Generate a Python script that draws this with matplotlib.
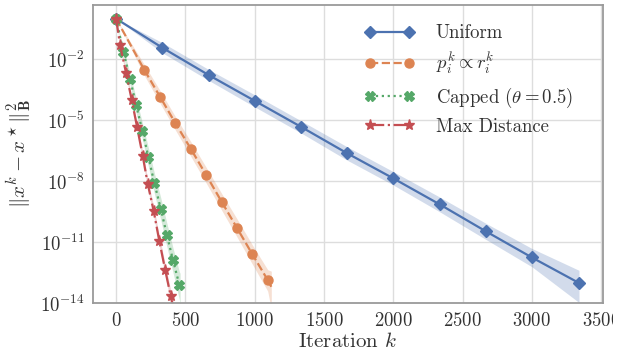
import matplotlib
matplotlib.use("Agg")
import matplotlib.pyplot as plt
from matplotlib.transforms import Bbox
import numpy as np

plt.rcParams['font.family'] = 'serif'
plt.rcParams['font.serif'] = ['cmr10']
plt.rcParams['mathtext.fontset'] = 'cm'
plt.rcParams['axes.formatter.use_mathtext'] = True

# ---- data ----
uniform_iter = [0, 334, 667, 1000, 1334, 1667, 2000, 2334, 2667, 3000, 3340]
uniform_mean = [1.0, 3.7e-2, 1.7e-3, 9.1e-5, 4.8e-6, 2.4e-7, 1.4e-8, 7.4e-10, 3.5e-11, 1.8e-12, 1.0e-13]
uniform_hi = [1.0, 6.6e-2, 3.2e-3, 1.8e-4, 9.5e-6, 5.0e-7, 3.0e-8, 1.7e-9, 8.7e-11, 5.0e-12, 4.2e-13]
uniform_lo = [1.0, 2.1e-2, 9.3e-4, 4.6e-5, 2.4e-6, 1.1e-7, 6.6e-9, 3.2e-10, 1.4e-11, 6.3e-13, 1.1e-14]

prop_iter = [0, 204, 317, 426, 539, 649, 762, 873, 983, 1094, 1120]
prop_mean = [1.0, 3.0e-3, 1.45e-4, 7.6e-6, 4.0e-7, 2.1e-8, 9.8e-10, 5.0e-11, 2.6e-12, 1.4e-13, 6.5e-14]
prop_hi = [1.0, 5.5e-3, 2.9e-4, 1.6e-5, 9.0e-7, 5.0e-8, 2.5e-9, 1.4e-10, 7.5e-12, 4.5e-13, 3.8e-13]
prop_lo = [1.0, 1.6e-3, 7.0e-5, 3.5e-6, 1.7e-7, 8.5e-9, 3.8e-10, 1.8e-11, 8.5e-13, 4.0e-14, 5.0e-15]

capped_iter = [0, 53, 101, 144, 190, 233, 276, 322, 366, 411, 457, 462]
capped_mean = [1.0, 2.3e-2, 1.07e-3, 5.8e-5, 3.0e-6, 1.6e-7, 8.3e-9, 4.6e-10, 2.4e-11, 1.3e-12, 7.9e-14, 6.0e-14]
capped_hi = [1.0, 3.5e-2, 2.0e-3, 1.3e-4, 7.5e-6, 4.5e-7, 2.6e-8, 1.6e-9, 9.0e-11, 5.2e-12, 3.5e-13, 3.0e-13]
capped_lo = [1.0, 1.5e-2, 5.5e-4, 2.5e-5, 1.2e-6, 5.5e-8, 2.6e-9, 1.3e-10, 6.3e-12, 3.2e-13, 1.5e-14, 5.0e-15]

maxd_iter = [0, 29, 72, 113, 152, 192, 228, 271, 312, 354, 394, 415]
maxd_mean = [1.0, 5.0e-2, 2.1e-3, 1.0e-4, 4.5e-6, 1.8e-7, 7.8e-9, 3.5e-10, 1.15e-11, 4.5e-13, 2.3e-14, 5.0e-15]
maxd_hi = [1.0, 6.5e-2, 3.0e-3, 1.5e-4, 7.0e-6, 3.0e-7, 1.3e-8, 6.0e-10, 2.1e-11, 8.5e-13, 4.5e-14, 1.0e-14]
maxd_lo = [1.0, 3.8e-2, 1.45e-3, 6.5e-5, 2.9e-6, 1.1e-7, 4.6e-9, 2.0e-10, 6.3e-12, 2.4e-13, 1.2e-14, 2.5e-15]

labels = ['Uniform', r'$p_i^k \propto r_i^k$', r'Capped ($\theta = 0.5$)', 'Max Distance']
colors = ['#4C72B0', '#DD8452', '#55A868', '#C44E52']
markers = ['D', 'o', 'X', '*']
styles = ['-', '--', ':', '-.']
xticks = [0, 500, 1000, 1500, 2000, 2500, 3000, 3500]
yticks = [1e-14, 1e-11, 1e-8, 1e-5, 1e-2]

series = [
    (uniform_iter, uniform_mean, uniform_lo, uniform_hi),
    (prop_iter, prop_mean, prop_lo, prop_hi),
    (capped_iter, capped_mean, capped_lo, capped_hi),
    (maxd_iter, maxd_mean, maxd_lo, maxd_hi),
]

fig = plt.figure(figsize=(6.27, 3.56), dpi=100)
ax = fig.add_axes([0.148, 0.148, 0.813, 0.839])
ax.set_facecolor('white')

msizes = [6.2, 6.5, 6.5, 8]
for (it, m, lo, hi), lab, c, mk, ls, ms in zip(series, labels, colors, markers, styles, msizes):
    ax.fill_between(it, lo, hi, color=c, alpha=0.25, linewidth=0)
    n = len(it)
    ax.plot(it, m, color=c, linestyle=ls, marker=mk, markersize=ms, lw=1.6,
            label=lab, markevery=list(range(0, n - 1)) if it[-1] - it[-2] < 60 else None)

ax.set_yscale('log')
ax.set_xlim(-168, 3510)
ax.set_ylim(1e-14, 4.9)
ax.set_yticks(yticks)
ax.yaxis.set_minor_locator(matplotlib.ticker.NullLocator())
ax.set_xticks(xticks)
ax.grid(True, color='#dddddd', lw=1.0)
ax.set_axisbelow(True)
for sp in ax.spines.values():
    sp.set_color('#9a9a9a')
    sp.set_linewidth(1.3)
ax.tick_params(axis='both', which='both', length=0, labelsize=13.5, labelcolor='#333333', pad=6)

ax.set_xlabel(r'Iteration $k$', fontsize=15, color='#333333', labelpad=2)
ax.set_ylabel(r'$\|x^k - x^\star\|_{\mathbf{B}}^2$', fontsize=15, color='#333333', labelpad=4)

leg = ax.legend(loc='upper right', frameon=False, fontsize=13.5, numpoints=2,
                handlelength=2.7, handletextpad=1.1, labelspacing=0.45,
                bbox_to_anchor=(0.975, 0.99))
for t in leg.get_texts():
    t.set_color('#333333')

# the right-most tick label is cut off at the figure edge in the reference
clip = Bbox.from_extents(0, 0, 613, 356)
last_tick = ax.xaxis.get_major_ticks()[-1]
last_tick.label1.set_clip_box(clip)
last_tick.label1.set_clip_on(True)

fig.savefig('out.png', dpi=100)
